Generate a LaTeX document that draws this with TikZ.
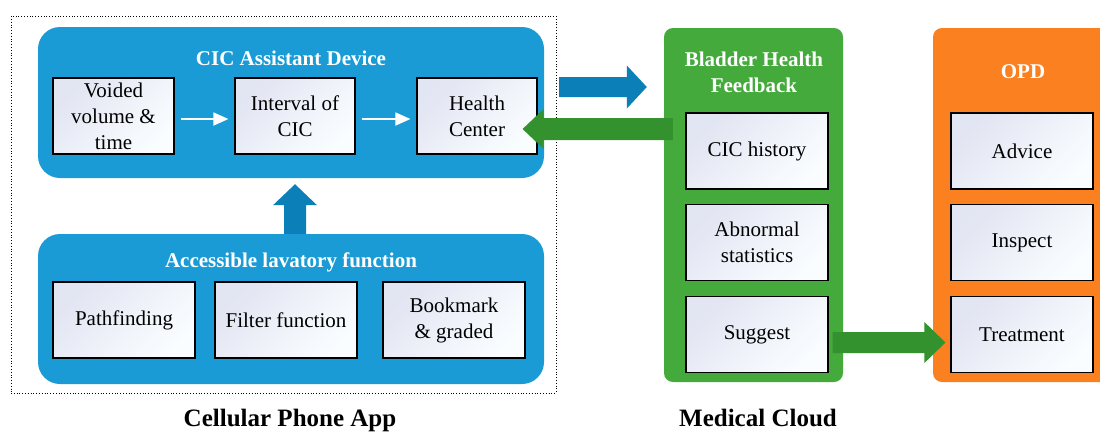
\documentclass[tikz,border=0pt]{standalone}
\usepackage{fontspec}
\setmainfont{Liberation Serif}
\usetikzlibrary{calc,arrows.meta}
\definecolor{cblue}{RGB}{26,155,214}
\definecolor{cbluedk}{RGB}{10,127,184}
\definecolor{cgreen}{RGB}{68,170,60}
\definecolor{cgreendk}{RGB}{51,146,46}
\definecolor{corange}{RGB}{250,128,32}
\definecolor{boxa}{RGB}{226,229,242}
\definecolor{boxb}{RGB}{250,253,255}
\begin{document}
\begin{tikzpicture}[x=1pt,y=-1pt,
  panel/.style={inner sep=0pt, minimum width=#1},
  inbox/.style={draw=black, line width=1.2pt, top color=boxa, bottom color=boxb,
    shading angle=45, minimum width=#1, minimum height=76pt, inner sep=0pt,
    align=center, font=\fontsize{21}{26}\selectfont},
  ttl/.style={text=white, font=\fontsize{21}{26}\selectfont\bfseries, align=center, inner sep=0pt},
  bottomcap/.style={font=\fontsize{25}{30}\selectfont\bfseries, inner sep=0pt},
  thinarrow/.style={draw=white, line width=1.8pt, -{Stealth[length=15pt,width=13pt,inset=0pt]}}]
\useasboundingbox (0,0) rectangle (1100,432);
\clip (0,0) rectangle (1100,432);
\fill[white] (0,0) rectangle (1100,432);

% dotted frame
\node[draw=black, dotted, line width=0.8pt, minimum width=545pt, minimum height=377pt, inner sep=0pt] (app) at (283.5,204.5) {};

% panels
\node[panel=506pt, fill=cblue, rounded corners=22pt, minimum height=151pt] (topblue) at (291,102.5) {};
\node[panel=506pt, fill=cblue, rounded corners=22pt, minimum height=150pt] (botblue) at (291,309) {};
\node[panel=179pt, fill=cgreen, rounded corners=9pt, minimum height=354pt] (green) at (753.5,205) {};
\node[panel=190pt, fill=corange, rounded corners=9pt, minimum height=354pt] (orange) at (1028,205) {};

% titles
\node[ttl] (t1) at (291,58) {CIC Assistant Device};
\node[ttl] (t2) at (291,262) {Accessible lavatory function};
\node[ttl] (t3) at (754,72) {Bladder Health\\Feedback};
\node[ttl] (t4) at (1023,72) {OPD};

% inner boxes
\node[inbox=121pt] (voided) at (113.5,116) {Voided\\volume \&\\time};
\node[inbox=120pt] (interval) at (295,116) {Interval of\\CIC};
\node[inbox=120pt] (health) at (477,116) {Health\\Center};

\node[inbox=142pt] (path) at (124,320) {Pathfinding};
\node[inbox=142pt] (filter) at (286,320) {Filter function};
\node[inbox=142pt] (bookmark) at (454,320) {Bookmark\\\& graded};

\node[inbox=142pt] (cichist) at (757,151) {CIC history};
\node[inbox=142pt] (abnormal) at (757,242.5) {Abnormal\\statistics};
\node[inbox=142pt] (suggest) at (757,334.5) {Suggest};

\node[inbox=142pt] (advice) at (1022,151) {Advice};
\node[inbox=142pt] (inspect) at (1022,242.5) {Inspect};
\node[inbox=142pt] (treat) at (1022,334.5) {Treatment};

% white arrows
\draw[thinarrow] ($(voided.east)+(6,3)$) -- ($(interval.west)+(-6,3)$);
\draw[thinarrow] ($(interval.east)+(6,3)$) -- ($(health.west)+(-6,3)$);

% blue right arrow
\coordinate (a1s) at ($(topblue.east)+(15,-15.5)$);
\coordinate (a1e) at ($(green.west |- a1s)+(-17,0)$);
\fill[cbluedk] ($(a1s)+(0,-10)$) -- ($(a1e)+(-20,-10)$) -- ($(a1e)+(-20,-21.5)$) -- (a1e)
  -- ($(a1e)+(-20,21.5)$) -- ($(a1e)+(-20,10)$) -- ($(a1s)+(0,10)$) -- cycle;

% green left arrow
\coordinate (a2s) at ($(green.west |- health.east)+(9,13)$);
\coordinate (a2e) at ($(health.east)+(-15,13)$);
\fill[cgreendk] ($(a2s)+(0,-11)$) -- ($(a2e)+(21,-11)$) -- ($(a2e)+(21,-20)$) -- (a2e)
  -- ($(a2e)+(21,20)$) -- ($(a2e)+(21,11)$) -- ($(a2s)+(0,11)$) -- cycle;

% green right arrow
\coordinate (a3s) at ($(suggest.east)+(4,8)$);
\coordinate (a3e) at ($(treat.west)+(-5,8)$);
\fill[cgreendk] ($(a3s)+(0,-10.5)$) -- ($(a3e)+(-21,-10.5)$) -- ($(a3e)+(-21,-20.5)$) -- (a3e)
  -- ($(a3e)+(-21,20.5)$) -- ($(a3e)+(-21,10.5)$) -- ($(a3s)+(0,10.5)$) -- cycle;

% blue up arrow
\coordinate (a4s) at ($(botblue.north)+(4,0)$);
\coordinate (a4e) at ($(a4s |- topblue.south)+(0,6)$);
\fill[cbluedk] ($(a4s)+(-11,0)$) -- ($(a4e)+(-11,21)$) -- ($(a4e)+(-22,21)$) -- (a4e)
  -- ($(a4e)+(22,21)$) -- ($(a4e)+(11,21)$) -- ($(a4s)+(11,0)$) -- cycle;

% captions
\node[bottomcap] (c1) at (290,420) {Cellular Phone App};
\node[bottomcap] (c2) at (758,418) {Medical Cloud};
\end{tikzpicture}
\end{document}
